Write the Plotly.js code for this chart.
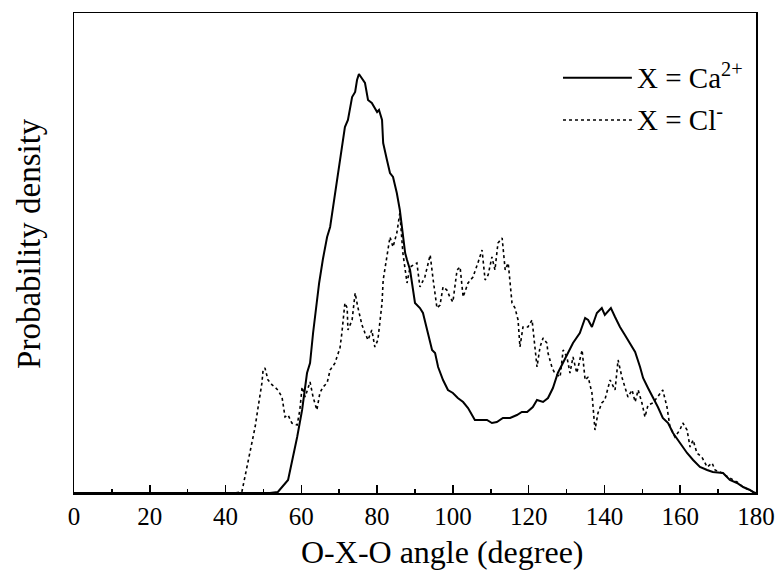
<!DOCTYPE html>
<html>
<head>
<meta charset="utf-8">
<script src="https://cdn.plot.ly/plotly-3.0.1.min.js"></script>
<style>html,body{margin:0;padding:0;background:#fff;}#chart{width:778px;height:572px;}</style>
</head>
<body>
<div id="chart"></div>
<script>
// O-X-O angle (degree) and probability density (arbitrary units)
const caAngle = [0, 51.7, 53.8, 56.5, 58.9, 60.2, 61.5, 62.3, 63.1, 64.1, 64.7, 65.7, 66.8, 67.6, 68.4, 69.4, 70.2, 71.5, 72.3, 73.4, 74.2, 74.7, 75.2, 76.0, 76.8, 77.6, 78.6, 80.0, 80.5, 81.3, 81.6, 82.6, 83.4, 84.2, 85.2, 86.0, 86.8, 87.4, 87.9, 88.7, 90.0, 91.3, 92.1, 93.2, 94.5, 95.3, 96.1, 97.4, 98.7, 100.0, 101.3, 102.7, 104.0, 105.8, 107.7, 109.0, 110.3, 111.6, 113.2, 115.1, 116.9, 118.2, 119.6, 121.1, 122.2, 123.8, 125.1, 126.4, 127.7, 129.1, 130.4, 131.7, 133.5, 134.9, 135.7, 136.7, 138.0, 139.3, 140.1, 141.7, 142.8, 144.1, 145.4, 146.7, 148.1, 149.4, 150.2, 151.5, 152.8, 154.1, 155.4, 156.8, 158.1, 159.9, 161.8, 163.4, 165.2, 167.1, 168.6, 171.3, 173.1, 175.0, 176.6, 178.4, 179.2, 180];
const caDensity = [0, 0, 1, 13, 56, 83, 120, 130, 160, 190, 210, 234, 256, 266, 286, 316, 336, 366, 373, 396, 401, 413, 419, 415, 410, 393, 390, 381, 383, 373, 350, 333, 320, 316, 300, 283, 256, 240, 233, 223, 190, 185, 180, 163, 143, 140, 126, 113, 103, 100, 95, 91, 85, 73, 73, 73, 70, 71, 75, 75, 78, 81, 81, 86, 93, 91, 95, 105, 120, 130, 140, 150, 160, 175, 173, 166, 180, 185, 178, 185, 176, 166, 158, 150, 141, 126, 115, 105, 96, 86, 75, 70, 60, 50, 40, 33, 26, 23, 21, 20, 13, 10, 6, 3, 1, 0];

const clAngle = [0, 42.0, 44.3, 45.1, 45.9, 47.0, 47.8, 48.6, 49.6, 49.9, 50.4, 51.2, 52.3, 53.0, 53.8, 54.9, 55.7, 56.5, 57.5, 58.9, 59.6, 60.2, 61.0, 62.3, 63.1, 64.1, 64.9, 65.7, 66.8, 67.6, 68.9, 69.4, 70.2, 70.7, 71.5, 72.1, 72.3, 73.4, 74.2, 74.9, 76.0, 76.8, 77.6, 78.6, 79.4, 80.2, 81.3, 81.6, 82.6, 83.4, 84.2, 85.2, 86.0, 86.8, 87.9, 88.7, 90.5, 91.3, 92.6, 94.0, 94.8, 95.8, 96.6, 97.4, 98.4, 99.2, 100.0, 101.1, 101.9, 102.7, 104.0, 105.3, 106.6, 107.7, 108.5, 109.3, 110.3, 111.1, 111.9, 113.0, 113.8, 114.6, 115.6, 116.4, 117.2, 117.7, 118.5, 119.8, 120.9, 121.7, 122.2, 123.0, 123.8, 124.8, 125.1, 126.2, 126.9, 128.3, 129.1, 130.1, 130.9, 131.7, 132.7, 134.1, 134.9, 135.7, 136.7, 137.5, 138.3, 139.3, 140.1, 141.5, 142.8, 143.6, 144.6, 145.4, 146.2, 147.3, 148.1, 148.9, 149.9, 150.7, 151.5, 152.8, 154.1, 155.4, 156.5, 157.3, 158.6, 159.9, 160.7, 161.8, 162.6, 163.4, 164.4, 165.7, 167.1, 168.4, 169.2, 171.0, 172.6, 175.0, 176.6, 178.4, 179.2, 180];
const clDensity = [0, 0, 1, 16, 33, 50, 66, 86, 110, 123, 125, 113, 108, 106, 103, 96, 76, 78, 70, 68, 83, 106, 96, 111, 96, 83, 100, 106, 110, 123, 130, 136, 145, 160, 190, 185, 163, 173, 200, 186, 168, 160, 153, 163, 146, 153, 190, 213, 236, 256, 246, 260, 280, 240, 210, 226, 230, 206, 216, 238, 213, 185, 188, 206, 203, 196, 191, 223, 226, 196, 210, 216, 230, 243, 213, 218, 236, 223, 250, 255, 223, 230, 190, 185, 173, 146, 166, 166, 173, 140, 126, 146, 155, 150, 140, 125, 120, 116, 143, 136, 120, 136, 120, 143, 113, 116, 100, 63, 80, 90, 93, 113, 103, 133, 116, 106, 96, 103, 91, 103, 90, 76, 88, 90, 96, 103, 86, 66, 56, 63, 70, 63, 46, 53, 40, 36, 26, 30, 23, 20, 16, 11, 6, 3, 1, 0];

const xTickVals = [0, 20, 40, 60, 80, 100, 120, 140, 160, 180];
const seriesNames = ['X = Ca<sup>2+</sup>', 'X = Cl<sup>-</sup>'];
const xTitle = 'O-X-O angle (degree)';
const yTitle = 'Probability density';

const serif = "'Liberation Serif', 'Times New Roman', serif";

const traces = [
  {x: caAngle, y: caDensity, mode: 'lines', name: seriesNames[0],
   line: {color: '#000', width: 2}, showlegend: false},
  {x: clAngle, y: clDensity, mode: 'lines', name: seriesNames[1],
   line: {color: '#000', width: 1.6, dash: 'dot'}, showlegend: false}
];

const layout = {
  width: 778, height: 572,
  margin: {l: 74, r: 22, t: 13, b: 79},
  paper_bgcolor: '#fff', plot_bgcolor: '#fff',
  font: {family: serif, color: '#000'},
  xaxis: {
    range: [0, 180], tickvals: xTickVals, ticktext: xTickVals.map(String),
    ticks: 'inside', ticklen: 8, tickwidth: 1.5, tickcolor: '#000',
    minor: {dtick: 10, ticks: 'inside', ticklen: 4, tickwidth: 1.5, tickcolor: '#000'},
    showline: true, linecolor: '#000', linewidth: 1.5, mirror: true,
    showgrid: false, zeroline: false,
    tickfont: {family: serif, size: 25, color: '#000'}
  },
  yaxis: {
    range: [0, 480], showticklabels: false, ticks: '',
    showline: true, linecolor: '#000', linewidth: 1.5, mirror: true,
    showgrid: false, zeroline: false
  },
  shapes: [
    {type: 'line', xref: 'paper', yref: 'paper', x0: 0.717, x1: 0.818, y0: 0.865, y1: 0.865, line: {color: '#000', width: 2}},
    {type: 'line', xref: 'paper', yref: 'paper', x0: 0.717, x1: 0.818, y0: 0.777, y1: 0.777, line: {color: '#000', width: 1.6, dash: 'dot'}}
  ],
  annotations: [
    {xref: 'paper', yref: 'paper', x: 0.823, y: 0.865, xanchor: 'left', yanchor: 'middle', yshift: 2, text: seriesNames[0], showarrow: false, font: {family: serif, size: 29, color: '#000'}},
    {xref: 'paper', yref: 'paper', x: 0.823, y: 0.777, xanchor: 'left', yanchor: 'middle', yshift: 2, text: seriesNames[1], showarrow: false, font: {family: serif, size: 29, color: '#000'}},
    {xref: 'paper', yref: 'paper', x: 0.54, y: -0.123, xanchor: 'center', yanchor: 'middle', text: xTitle, showarrow: false, font: {family: serif, size: 32, color: '#000'}},
    {xref: 'paper', yref: 'paper', x: -0.066, y: 0.521, xanchor: 'center', yanchor: 'middle', textangle: -90, text: yTitle, showarrow: false, font: {family: serif, size: 33, color: '#000'}}
  ]
};

Plotly.newPlot('chart', traces, layout, {displayModeBar: false, staticPlot: true});
</script>
</body>
</html>
